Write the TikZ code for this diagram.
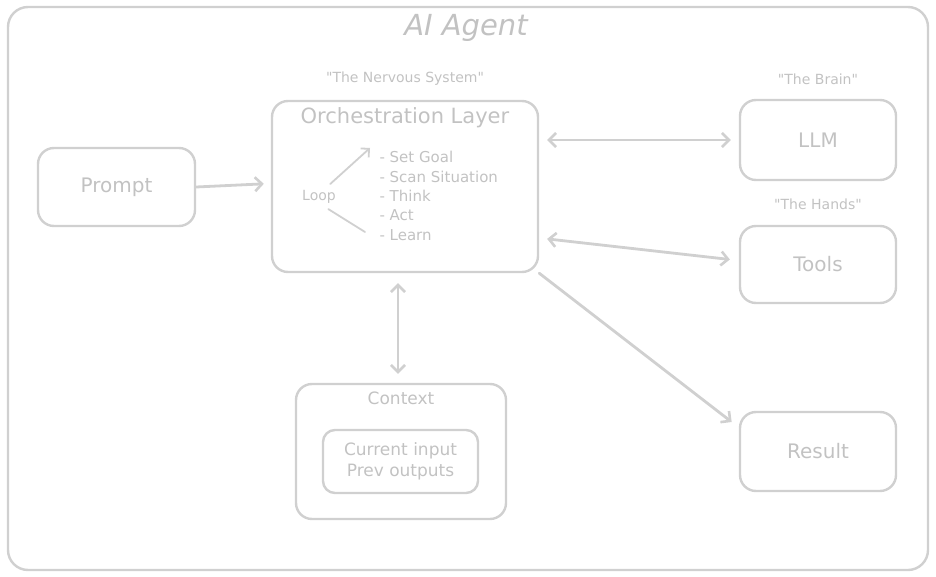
\documentclass[tikz,border=0pt]{standalone}
\usepackage{fontspec}
\setmainfont{DejaVu Sans}[Ligatures=TeXOff]
\usepackage{xcolor}
\usetikzlibrary{positioning,arrows.meta}
\definecolor{sketchline}{RGB}{208,208,208}
\definecolor{sketchtext}{RGB}{194,194,194}

\tikzset{
  box/.style={draw=sketchline, line width=2.4pt, rounded corners=16pt, text=sketchtext, font=\fontsize{20}{22}\selectfont},
  note/.style={text=sketchtext, font=\fontsize{14}{16}\selectfont},
  item/.style={text=sketchtext, anchor=west, font=\fontsize{15}{17}\selectfont},
  link/.style={draw=sketchline, line width=2.8pt, line cap=round, arrows={-Straight Barb[length=7pt,width=14pt,line width=2.6pt]}},
  both/.style={link, arrows={Straight Barb[length=7pt,width=14pt,line width=2.6pt]-Straight Barb[length=7pt,width=14pt,line width=2.6pt]}},
}

\begin{document}
\begin{tikzpicture}[x=1pt, y=-1pt]
  \useasboundingbox (0,0) rectangle (936,577);

  % outer frame
  \node[box, rounded corners=20pt, minimum width=920pt, minimum height=563pt] (agent) at (468,288.5) {};
  \node[text=sketchtext, font=\fontsize{29}{32}\selectfont\itshape] (title) at (466,28) {AI Agent};

  % boxes
  \node[box, minimum width=157pt, minimum height=78pt] (prompt) at (116.5,187) {Prompt};
  \node[box, minimum width=266pt, minimum height=171pt] (orch) at (405,186.5) {};
  \node[text=sketchtext, font=\fontsize{21}{23}\selectfont] (orchtitle) at (405,118) {Orchestration Layer};
  \node[box, minimum width=156pt, minimum height=80pt] (llm) at (818,140) {LLM};
  \node[box, minimum width=156pt, minimum height=77pt] (tools) at (818,264.5) {Tools};
  \node[box, minimum width=156pt, minimum height=79pt] (result) at (818,451.5) {Result};
  \node[box, minimum width=210pt, minimum height=135pt] (context) at (401,451.5) {};
  \node[text=sketchtext, font=\fontsize{17}{19}\selectfont] (contexttitle) at (401,398) {Context};
  \node[box, rounded corners=12pt, minimum width=155pt, minimum height=63pt, align=center,
        font=\fontsize{17}{21}\selectfont] (memory) at (400.5,461.5) {Current input\\Prev outputs};

  % quoted labels
  \node[note] (nervous) at (405,79) {"The Nervous System"};
  \node[note] (brain) at (818,79) {"The Brain"};
  \node[note] (hands) at (818,204) {"The Hands"};

  % loop inside the orchestration layer
  \node[item] (goal) at (376,157) {- Set Goal};
  \node[item] (scan) at (376,176.5) {- Scan Situation};
  \node[item] (think) at (376,196) {- Think};
  \node[item] (act) at (376,215.5) {- Act};
  \node[item] (learn) at (376,235) {- Learn};
  \node[text=sketchtext, font=\fontsize{14}{16}\selectfont] (loop) at (319,197) {Loop};

  \draw[link, line width=1.8pt, arrows={-Straight Barb[length=6pt,width=12pt,line width=1.8pt]}]
    ([xshift=-9pt,yshift=3pt]loop.north east) -- ([xshift=-6pt,yshift=9pt]goal.west);
  \draw[draw=sketchline, line width=1.8pt, line cap=round]
    ([xshift=-11pt,yshift=-2pt]loop.south east) -- ([xshift=-11pt,yshift=3pt]learn.west);

  % connectors
  \draw[link, shorten >=7pt] (prompt.east) -- ([yshift=3pt]orch.west);
  \draw[both, shorten <=8pt, shorten >=8pt] (llm.west -| orch.east) -- (llm.west);
  \draw[both, shorten <=8pt, shorten >=9pt] ([yshift=-51.5pt]orch.east) -- ([yshift=4pt]tools.west);
  \draw[link, shorten >=9pt] (orch.south east) -- ([yshift=24pt]result.west);
  \draw[both, shorten <=10pt, shorten >=9pt] ([xshift=-7pt]orch.south) -- ([xshift=-7pt]context.north -| orch.south);
\end{tikzpicture}
\end{document}
